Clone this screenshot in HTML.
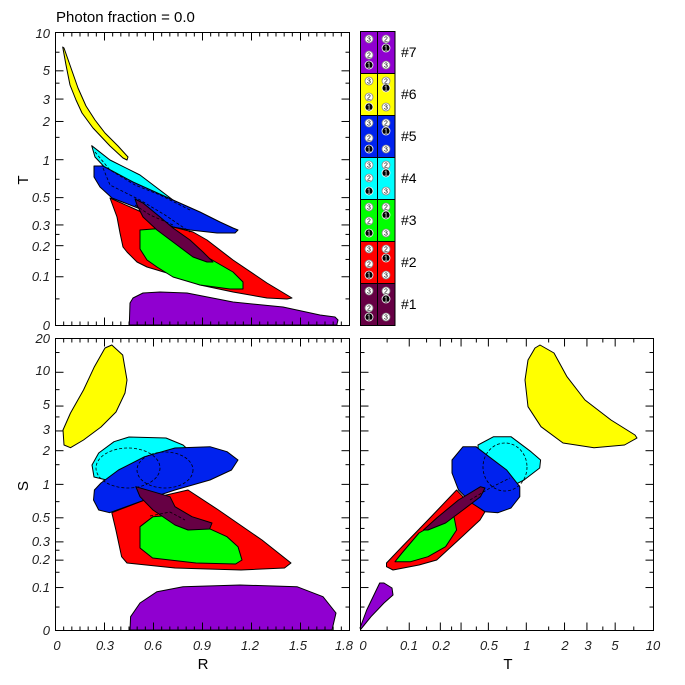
<!DOCTYPE html>
<html><head><meta charset="utf-8"><style>
html,body{margin:0;padding:0;background:#fff;}
svg{display:block;font-family:"Liberation Sans",sans-serif;}
.tl{font-size:13px;font-style:italic;fill:#222;}
</style></head><body>
<svg id="s" width="685" height="685" viewBox="0 0 685 685" xmlns="http://www.w3.org/2000/svg">
<rect width="685" height="685" fill="#fff"/>
<text x="56" y="22" font-size="15" fill="#000">Photon fraction = 0.0</text>

<g stroke="#000" stroke-width="1" stroke-linejoin="round">
<path fill="#ffff00" d="M62.7,47 L66,65 L70,85 L76,100 L82,113 L93,128 L110,146 L123,158 L127,160 L128,157 L118,146 L105,133 L95,120 L86,106 L78,88 L71,68 L64,48Z"/>
<path fill="#00ffff" d="M91.7,145.7 L110,160 L140,175 L173,200 L192,212 L193,214 L173,210 L140,193 L110,173 L95,157Z"/>
<path fill="#0022ee" d="M94,166 L103,166 L133,182 L173,200 L200,212 L220,222 L233,228 L238,230 L235,233 L217,233 L190,230 L173,227 L143,210 L112,198 L100,187 L94,177Z"/>
<path fill="#ff0000" d="M110,198 L137,210 L173,227 L193,232 L207,240 L233,260 L267,283 L292,298 L287,299 L267,298 L233,292 L200,285 L167,273 L147,267 L137,262 L127,252 L123,247 L120,233 L117,217Z"/>
<path fill="#00ff00" d="M140,230 L153,229 L173,228 L193,247 L207,257 L233,272 L243,282 L243,289 L230,289 L200,285 L173,277 L157,267 L147,260 L140,249Z"/>
<path fill="#660044" d="M135,199 L143,203 L160,217 L173,228 L190,240 L203,252 L213,262 L207,262 L193,257 L177,245 L157,230 L143,217 L137,205Z"/>
<path fill="#9000d0" d="M129.3,325 L130,303 L133,298 L143,293 L160,292 L187,293 L233,302 L283,307 L320,315 L335,317 L338,320 L337,324 L337,325Z"/>
</g>
<g fill="none" stroke="#000" stroke-width="0.8" stroke-dasharray="3,2">
<path d="M95,152 L110,170 L135,185 L160,195 L190,210"/>
<path d="M103,168 L110,185 L140,200 L165,215 L190,232"/>
<path d="M135,205 L150,215 L173,225"/>
</g>

<g stroke="#000" stroke-width="1" stroke-linejoin="round">
<path fill="#ffff00" d="M111.8,345 L122.7,355 L127,380 L125,393 L116,412 L101,427 L83.5,440 L70.5,447.7 L64,445 L63,430 L70.5,413 L83.5,390 L94.4,366.7 L105,348Z"/>
<path fill="#00ffff" d="M92,465 L98.7,453 L114,441.7 L129,437 L166,438 L183,445 L192,453 L188,463 L150,475 L115,482 L94,477Z"/>
<path fill="#ff0000" d="M111.8,512.7 L144.6,500 L188,490 L218.5,510 L262,540 L291,563 L284.5,568 L241,570 L175,568 L127,563 L121.6,556.7 L115.9,530Z"/>
<path fill="#0022ee" d="M94.4,490 L101,483 L118.5,470 L144.6,456.7 L175,448 L210,446.7 L227,451.7 L238,460 L231.5,470 L210,480 L175,490 L144.6,500 L109.6,512.7 L98.7,510 L93.5,500Z"/>
<path fill="#00ff00" d="M140,526.7 L153,516.7 L175,515 L205,526.7 L227,536.7 L238,546.7 L242,560 L235.6,564 L196,563 L152.6,558 L140,548Z"/>
<path fill="#660044" d="M135.8,486.7 L153,491.7 L170,496.7 L175,506.7 L192,516.7 L212,523 L209.6,529 L188,530 L175,525 L153,510 L140,496.7Z"/>
<path fill="#9000d0" d="M130,630 L130.6,616.7 L140,603 L157,591.7 L183,586.7 L240,585 L297,586.7 L323,596.7 L336,613 L332,630Z"/>
</g>
<g fill="none" stroke="#000" stroke-width="0.8" stroke-dasharray="3,2">
<ellipse cx="128" cy="468" rx="32" ry="20"/>
<ellipse cx="165" cy="470" rx="28" ry="18"/>
<path d="M150,516 L170,512 L185,520"/>
</g>

<g stroke="#000" stroke-width="1" stroke-linejoin="round">
<path fill="#ffff00" d="M540,345 L554,353 L567,376.7 L585,400 L611,420 L635,435 L637,438 L624.5,445 L594,447.7 L563,443 L541,426.7 L528,406.7 L525,380 L528,360 L535,348Z"/>
<path fill="#ff0000" d="M386.5,566.7 L386.5,563 L402,546.7 L428,520 L456.6,490 L463,496.7 L485,511.7 L480,520 L458.5,540 L436.7,560 L419,565 L393,570Z"/>
<path fill="#00ffff" d="M478,445 L493.6,436.7 L511,436.7 L531,451.7 L540.6,460 L539.7,468 L524,480 L511,486.7 L480.5,486.7Z"/>
<path fill="#0022ee" d="M463,446.7 L476,446.7 L489,456.7 L506.7,470 L519.8,486.7 L519.8,496.7 L511,508 L498,512.7 L485,511.7 L471.6,503 L458.5,490 L452,473 L452,460Z"/>
<path fill="#00ff00" d="M395,561.7 L402,553 L419,533 L436.7,523 L454,516.7 L456.6,530 L445.6,546.7 L428,556.7 L410.6,561.7Z"/>
<path fill="#660044" d="M423.5,530 L436.7,518 L458.5,500 L480.5,486.7 L485,488 L480.5,496.7 L463,510 L445.6,523 L428,530Z"/>
<path fill="#9000d0" d="M360,628 L366.7,610 L379.7,583 L384,583 L392,588 L393,595 L384,603 L371,616.7 L361,629Z"/>
</g>
<g fill="none" stroke="#000" stroke-width="0.8" stroke-dasharray="3,2">
<ellipse cx="505" cy="467" rx="22" ry="24"/>
<path d="M470,500 L490,488 L510,478"/>
</g>

<g fill="none" stroke="#000" stroke-width="1">
<rect x="55.5" y="32.5" width="294" height="293"/>
<rect x="55.5" y="338.5" width="294" height="292"/>
<rect x="360.5" y="338.5" width="293" height="292"/>
</g>
<g id="ticks" stroke="#000" stroke-width="1"></g>
<g id="leg"></g>

<g class="tl" text-anchor="end">
<text x="50" y="38">10</text><text x="50" y="75">5</text><text x="50" y="104">3</text>
<text x="50" y="126">2</text><text x="50" y="165">1</text><text x="50" y="202">0.5</text>
<text x="50" y="230">0.3</text><text x="50" y="251">0.2</text><text x="50" y="281">0.1</text>
<text x="50" y="330">0</text>
<text x="50" y="343">20</text><text x="50" y="375">10</text><text x="50" y="409">5</text>
<text x="50" y="434">3</text><text x="50" y="455">2</text><text x="50" y="489">1</text>
<text x="50" y="522">0.5</text><text x="50" y="546">0.3</text><text x="50" y="564">0.2</text>
<text x="50" y="592">0.1</text><text x="50" y="635">0</text>
</g>
<g class="tl" text-anchor="middle">
<text x="57" y="650">0</text><text x="105" y="650">0.3</text><text x="153" y="650">0.6</text>
<text x="202" y="650">0.9</text><text x="250" y="650">1.2</text><text x="298" y="650">1.5</text>
<text x="344" y="650">1.8</text>
<text x="363" y="650">0</text><text x="409" y="650">0.1</text><text x="441" y="650">0.2</text>
<text x="489" y="650">0.5</text><text x="527" y="650">1</text><text x="565" y="650">2</text>
<text x="588" y="650">3</text><text x="615" y="650">5</text><text x="653" y="650">10</text>
</g>
<g font-size="15" fill="#000" text-anchor="middle">
<text x="203" y="669">R</text><text x="508" y="669">T</text>
<text transform="translate(28,180) rotate(-90)">T</text>
<text transform="translate(28,486) rotate(-90)">S</text>
</g>
</svg>
<script>
(function(){
var NS="http://www.w3.org/2000/svg",g=document.getElementById("ticks");
function ln(x1,y1,x2,y2){var l=document.createElementNS(NS,"line");l.setAttribute("x1",x1);l.setAttribute("y1",y1);l.setAttribute("x2",x2);l.setAttribute("y2",y2);g.appendChild(l);}
function as(v){return Math.asinh(v/0.1);}
var majT=[0,0.1,0.2,0.3,0.5,1,2,3,5,10];
var minT=[0.05,0.15,0.25,0.4,0.7,1.5,4,7];
var majS=[0,0.1,0.2,0.3,0.5,1,2,3,5,10,20];
var minS=[0.05,0.15,0.25,0.4,0.7,1.5,4,7,15];
function yT(v){return 325.5-as(v)/as(10)*293;}
function yS(v){return 630.5-as(v)/as(20)*292;}
function xT(v){return 360.5+as(v)/as(10)*293;}
majT.forEach(function(v){var y=yT(v);ln(55.5,y,63.5,y);ln(349.5,y,341.5,y);});
minT.forEach(function(v){var y=yT(v);ln(55.5,y,59.5,y);ln(349.5,y,345.5,y);});
majS.forEach(function(v){var y=yS(v);ln(55.5,y,63.5,y);ln(349.5,y,341.5,y);ln(360.5,y,368.5,y);ln(653.5,y,645.5,y);});
minS.forEach(function(v){var y=yS(v);ln(55.5,y,59.5,y);ln(349.5,y,345.5,y);ln(360.5,y,364.5,y);ln(653.5,y,649.5,y);});
for(var i=0;i<=36;i++){var x=55.5+i*294/36;var L=(i%6==0)?8:4;
 ln(x,325.5,x,325.5-L);ln(x,32.5,x,32.5+L);ln(x,630.5,x,630.5-L);ln(x,338.5,x,338.5+L);}
majT.forEach(function(v){var x=xT(v);ln(x,630.5,x,622.5);ln(x,338.5,x,346.5);});
minT.forEach(function(v){var x=xT(v);ln(x,630.5,x,626.5);ln(x,338.5,x,342.5);});
var lg=document.getElementById("leg");
var cols=["#9000d0","#ffff00","#0022ee","#00ffff","#00ff00","#ff0000","#660044"];
function el(t,a,p){var e=document.createElementNS(NS,t);for(var k in a)e.setAttribute(k,a[k]);(p||lg).appendChild(e);return e;}
var ys=[[8,24,34],[8,24,34],[8,23,34],[8,21,34],[8,22,34],[8,23,34],[8,25,34]];
var yr=[[8,17,34],[8,15,34],[8,16,34],[8,16,34],[8,16,34],[8,17,34],[8,16,34]];
var L=["3","2","1"],R=["2","1","3"];
for(var i=0;i<7;i++){var y0=31+i*42;
 el("rect",{x:360.5,y:y0+0.5,width:17,height:42,fill:cols[i],stroke:"#000"});
 el("rect",{x:377.5,y:y0+0.5,width:17.5,height:42,fill:cols[i],stroke:"#000"});
 for(var j=0;j<3;j++){
  var c1=(j==2)?"#000":"#fff",c2=(j==1)?"#000":"#fff";
  el("circle",{cx:369,cy:y0+ys[i][j],r:4,fill:c1,stroke:c1=="#000"?"#fff":"#888","stroke-width":0.8});
  var t=el("text",{x:369,y:y0+ys[i][j]+2.5,"font-size":7,"text-anchor":"middle",fill:c1=="#000"?"#fff":"#000"});t.textContent=L[j];
  el("circle",{cx:386,cy:y0+yr[i][j],r:4,fill:c2,stroke:c2=="#000"?"#fff":"#888","stroke-width":0.8});
  t=el("text",{x:386,y:y0+yr[i][j]+2.5,"font-size":7,"text-anchor":"middle",fill:c2=="#000"?"#fff":"#000"});t.textContent=R[j];
 }
 var tx=el("text",{x:401,y:y0+26,"font-size":14,fill:"#000"});tx.textContent="#"+(7-i);
}
})();
</script>
</body></html>
